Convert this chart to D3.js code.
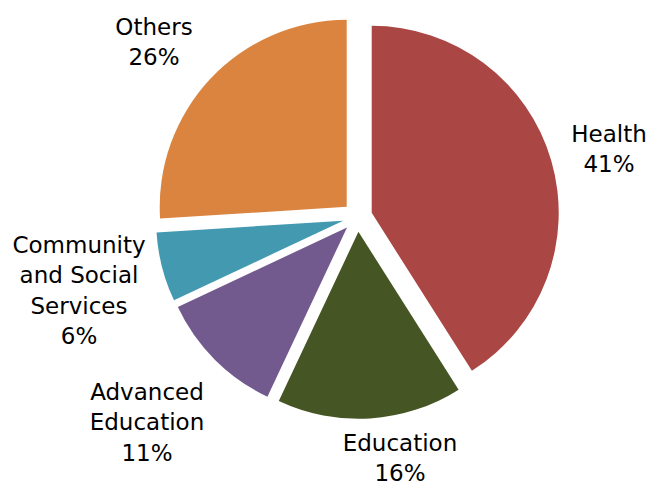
<!DOCTYPE html>
<html>
<head>
<meta charset="utf-8">
<script src="https://cdn.jsdelivr.net/npm/d3@7"></script>
<style>
  html, body { margin: 0; padding: 0; background: #fff; }
  svg { display: block; }
  text { font-family: "DejaVu Sans", sans-serif; font-size: 23px; fill: #000; }
</style>
</head>
<body>
<svg id="chart" width="650" height="487"></svg>
<script>
// ---- data ----
const categories = ["Health", "Education", "Advanced Education", "Community and Social Services", "Others"];
const values = [41, 16, 11, 6, 26];
const labelLines = [["Health"], ["Education"], ["Advanced", "Education"], ["Community", "and Social", "Services"], ["Others"]];
const colors = ["#AA4644", "#465524", "#72598E", "#4299B0", "#DB843F"];

// ---- layout ----
const W = 650, H = 487;
const cx = 357.5, cy = 217, R = 187, explode = 14.8;
// label anchor: [center x, first baseline y]
const labelAnchor = [[609, 142], [400, 451], [147, 400], [79, 253], [154, 35]];
const lineH = 30.3;

const svg = d3.select("#chart");
const total = d3.sum(values);
const pie = d3.pie().sort(null).value(d => d.v).startAngle(0).endAngle(2 * Math.PI);
const arcs = pie(categories.map((c, i) => ({ c, v: values[i], i })));
const arc = d3.arc().innerRadius(0).outerRadius(R);

const g = svg.append("g").attr("transform", `translate(${cx},${cy})`);
g.selectAll("path").data(arcs).enter().append("path")
  .attr("d", arc)
  .attr("fill", d => colors[d.data.i])
  .attr("transform", d => {
    const a = (d.startAngle + d.endAngle) / 2;
    return `translate(${explode * Math.sin(a)},${-explode * Math.cos(a)})`;
  });

const fmt = d3.format(".0%");
arcs.forEach(d => {
  const i = d.data.i;
  const lines = labelLines[i].concat([fmt(d.data.v / total)]);
  const t = svg.append("text").attr("text-anchor", "middle");
  lines.forEach((ln, k) => {
    t.append("tspan").attr("x", labelAnchor[i][0]).attr("y", labelAnchor[i][1] + k * lineH).text(ln);
  });
});
</script>
</body>
</html>
